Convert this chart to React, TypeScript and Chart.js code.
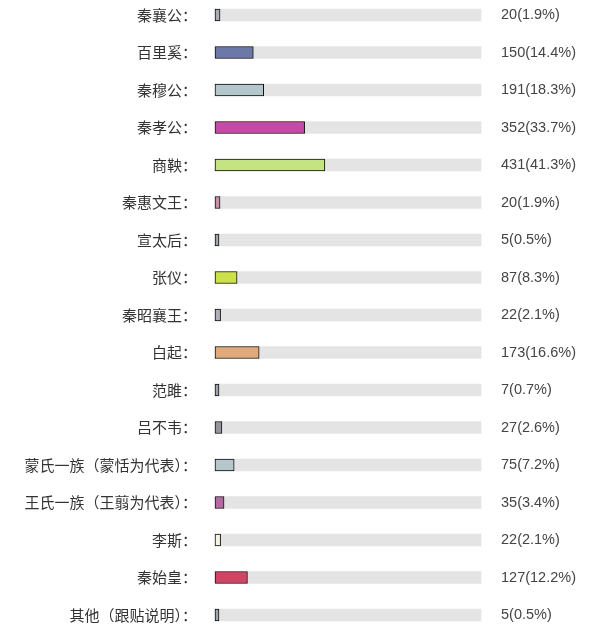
import React, { useEffect, useRef } from "react";
import { Chart, registerables } from "chart.js";

Chart.register(...registerables);

const categories = [
  "秦襄公：", "百里奚：", "秦穆公：", "秦孝公：", "商鞅：", "秦惠文王：", "宣太后：", "张仪：",
  "秦昭襄王：", "白起：", "范雎：", "吕不韦：", "蒙氏一族（蒙恬为代表）：", "王氏一族（王翦为代表）：",
  "李斯：", "秦始皇：", "其他（跟贴说明）：",
];
const votes = [20, 150, 191, 352, 431, 20, 5, 87, 22, 173, 7, 27, 75, 35, 22, 127, 5];
const percents = [1.9, 14.4, 18.3, 33.7, 41.3, 1.9, 0.5, 8.3, 2.1, 16.6, 0.7, 2.6, 7.2, 3.4, 2.1, 12.2, 0.5];
const valueLabels = votes.map((v, i) => `${v}(${percents[i]}%)`);
const trackValues = categories.map(() => 100);
const barColors = [
  "#a8acb4", "#6c78a8", "#b4c8cc", "#c848a8", "#c4e484", "#c890a8", "#a0a4b0", "#cce04c",
  "#b0b0b8", "#e0aa7c", "#a0a4b0", "#94949c", "#b4c8cc", "#b468a4", "#f4f4e0", "#d04464", "#a0a4b0",
];

export default function App() {
  const ref = useRef<HTMLCanvasElement | null>(null);
  useEffect(() => {
    if (!ref.current) return;
    const noPad = (s: any, w: number) => {
      s.width = w;
      s.paddingTop = 0;
      s.paddingBottom = 0;
    };
    const chart = new Chart(ref.current, {
      type: "bar",
      data: {
        labels: categories,
        datasets: [
          {
            data: percents,
            backgroundColor: barColors,
            borderColor: "#111111",
            borderWidth: 1,
            borderSkipped: false,
            barThickness: 12,
            minBarLength: 4,
            grouped: false,
            clip: false as any,
          },
          {
            data: trackValues,
            backgroundColor: "#e4e4e4",
            borderWidth: 0,
            barThickness: 12,
            grouped: false,
            clip: false as any,
          },
        ],
      },
      options: {
        indexAxis: "y",
        animation: false,
        responsive: false,
        maintainAspectRatio: false,
        layout: { padding: { top: 15, bottom: 12, left: 0, right: 0 } },
        plugins: { legend: { display: false }, tooltip: { enabled: false } },
        scales: {
          x: { display: false, min: 0, max: 100 },
          y: {
            type: "category",
            position: "left",
            offset: false,
            grid: { display: false, drawTicks: false },
            border: { display: false },
            ticks: {
              autoSkip: false,
              padding: 18,
              color: "#333333",
              font: { family: "'Noto Sans CJK SC', sans-serif", size: 15 },
            },
            afterFit: (s: any) => noPad(s, 215),
          },
          y2: {
            type: "category",
            position: "right",
            labels: valueLabels,
            offset: false,
            grid: { display: false, drawTicks: false },
            border: { display: false },
            ticks: {
              autoSkip: false,
              padding: 20,
              color: "#444444",
              font: { family: "'Liberation Sans', Arial, sans-serif", size: 14.5 },
            },
            afterFit: (s: any) => noPad(s, 111),
          },
        },
      } as any,
    });
    return () => chart.destroy();
  }, []);
  return (
    <div style={{ position: "absolute", left: 0, top: 0, width: 592, height: 627, background: "#ffffff" }}>
      <canvas ref={ref} width={592} height={627} style={{ width: 592, height: 627, display: "block" }} />
    </div>
  );
}
